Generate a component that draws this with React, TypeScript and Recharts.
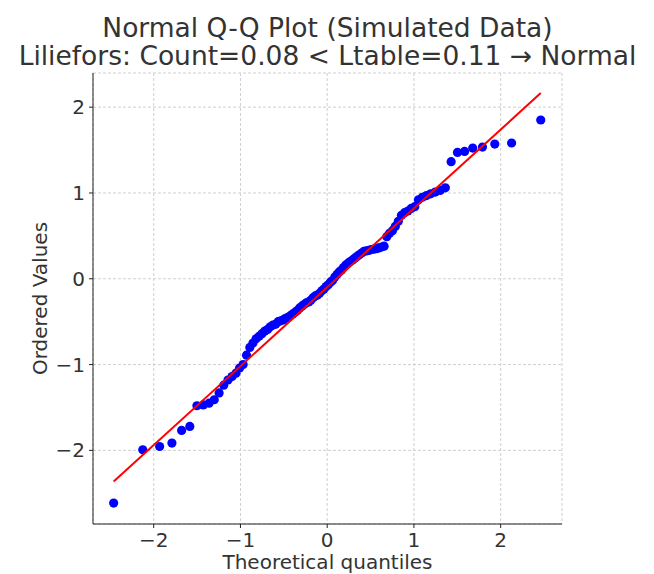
import React from "react";
import {
  ScatterChart,
  Scatter,
  XAxis,
  YAxis,
  CartesianGrid,
  Label,
} from "recharts";

// theoretical normal quantiles (n = 100)
const theoreticalQuantiles = [
  -2.462, -2.126, -1.932, -1.79, -1.678, -1.584, -1.502, -1.429, -1.362, -1.302,
  -1.246, -1.193, -1.144, -1.097, -1.052, -1.01, -0.969, -0.93, -0.892, -0.856,
  -0.82, -0.785, -0.752, -0.719, -0.687, -0.656, -0.625, -0.595, -0.566, -0.536,
  -0.508, -0.48, -0.452, -0.424, -0.397, -0.37, -0.344, -0.318, -0.292, -0.266,
  -0.24, -0.214, -0.189, -0.163, -0.138, -0.113, -0.088, -0.062, -0.037, -0.012,
  0.012, 0.037, 0.062, 0.088, 0.113, 0.138, 0.163, 0.189, 0.214, 0.24,
  0.266, 0.292, 0.318, 0.344, 0.37, 0.397, 0.424, 0.452, 0.48, 0.508,
  0.536, 0.566, 0.595, 0.625, 0.656, 0.687, 0.719, 0.752, 0.785, 0.82,
  0.856, 0.892, 0.93, 0.969, 1.01, 1.052, 1.097, 1.144, 1.193, 1.246,
  1.302, 1.362, 1.429, 1.502, 1.584, 1.678, 1.79, 1.932, 2.126, 2.462,
];

// sorted sample values
const orderedValues = [
  -2.614, -1.993, -1.955, -1.915, -1.768, -1.721, -1.48, -1.47, -1.45, -1.41,
  -1.33, -1.24, -1.18, -1.14, -1.1, -1.04, -1.0, -0.89, -0.8, -0.75,
  -0.7, -0.67, -0.64, -0.61, -0.59, -0.56, -0.54, -0.53, -0.5, -0.49,
  -0.48, -0.46, -0.45, -0.43, -0.41, -0.39, -0.37, -0.34, -0.32, -0.3,
  -0.28, -0.27, -0.25, -0.22, -0.2, -0.19, -0.17, -0.14, -0.12, -0.09,
  -0.07, -0.04, -0.02, 0.02, 0.05, 0.08, 0.1, 0.13, 0.16, 0.18,
  0.2, 0.22, 0.24, 0.26, 0.28, 0.3, 0.32, 0.325, 0.33, 0.34,
  0.345, 0.35, 0.36, 0.37, 0.38, 0.49, 0.53, 0.56, 0.61, 0.67,
  0.74, 0.77, 0.79, 0.82, 0.84, 0.92, 0.95, 0.97, 0.99, 1.01,
  1.03, 1.06, 1.364, 1.472, 1.484, 1.523, 1.535, 1.57, 1.582, 1.85,
];

// least-squares fit line end points
const fitX = [-2.462, 2.462];
const fitY = [-2.362, 2.164];

const axisTicks = [-2, -1, 0, 1, 2];

const FONT = "DejaVu Sans";
const TEXT = "#333333";

const points = theoreticalQuantiles.map((x, i) => ({ x, y: orderedValues[i] }));
const fitLine = fitX.map((x, i) => ({ x, y: fitY[i] }));

const minus = (v: number) => String(v).replace("-", "\u2212");

export default function App() {
  return (
    <div
      style={{
        position: "absolute",
        left: 0,
        top: 0,
        width: 654,
        height: 574,
        background: "#fff",
        fontFamily: FONT,
      }}
    >
      <div
        style={{
          position: "absolute",
          left: 0,
          top: 14,
          width: 655,
          textAlign: "center",
          fontSize: 26.5,
          lineHeight: "28px",
          color: TEXT,
        }}
      >
        Normal Q-Q Plot (Simulated Data)
        <br />
        Liliefors: Count=0.08 &lt; Ltable=0.11 → Normal
      </div>
      <ScatterChart
        width={654}
        height={574}
        margin={{ top: 73, right: 92, bottom: 0, left: 0 }}
      >
        <CartesianGrid stroke="#cfcfcf" strokeDasharray="3 2" />
        <XAxis
          type="number"
          dataKey="x"
          domain={[-2.7, 2.707]}
          ticks={axisTicks}
          allowDataOverflow
          height={50}
          tickFormatter={minus}
          tick={{ fontSize: 20, fill: TEXT, fontFamily: FONT }}
          tickSize={4}
          tickMargin={5}
          stroke="#222"
        >
          <Label
            content={({ viewBox }: any) => (
              <text
                x={viewBox.x + viewBox.width / 2}
                y={569}
                textAnchor="middle"
                fontSize={20}
                fill={TEXT}
                fontFamily={FONT}
              >
                Theoretical quantiles
              </text>
            )}
          />
        </XAxis>
        <YAxis
          type="number"
          dataKey="y"
          domain={[-2.858, 2.398]}
          ticks={axisTicks}
          allowDataOverflow
          width={93}
          tickFormatter={minus}
          tick={{ fontSize: 20, fill: TEXT, fontFamily: FONT }}
          tickSize={4}
          tickMargin={4}
          stroke="#222"
        >
          <Label
            content={({ viewBox }: any) => {
              const cy = viewBox.y + viewBox.height / 2;
              return (
                <text
                  x={47}
                  y={cy}
                  transform={`rotate(-90, 47, ${cy})`}
                  textAnchor="middle"
                  fontSize={20}
                  fill={TEXT}
                  fontFamily={FONT}
                >
                  Ordered Values
                </text>
              );
            }}
          />
        </YAxis>
        <Scatter
          data={points}
          isAnimationActive={false}
          shape={(p: any) => (
            <circle cx={p.cx} cy={p.cy} r={4.6} fill="#0000ff" />
          )}
        />
        <Scatter
          data={fitLine}
          isAnimationActive={false}
          line={{ stroke: "#ff0000", strokeWidth: 2 }}
          shape={() => <g />}
        />
      </ScatterChart>
    </div>
  );
}
